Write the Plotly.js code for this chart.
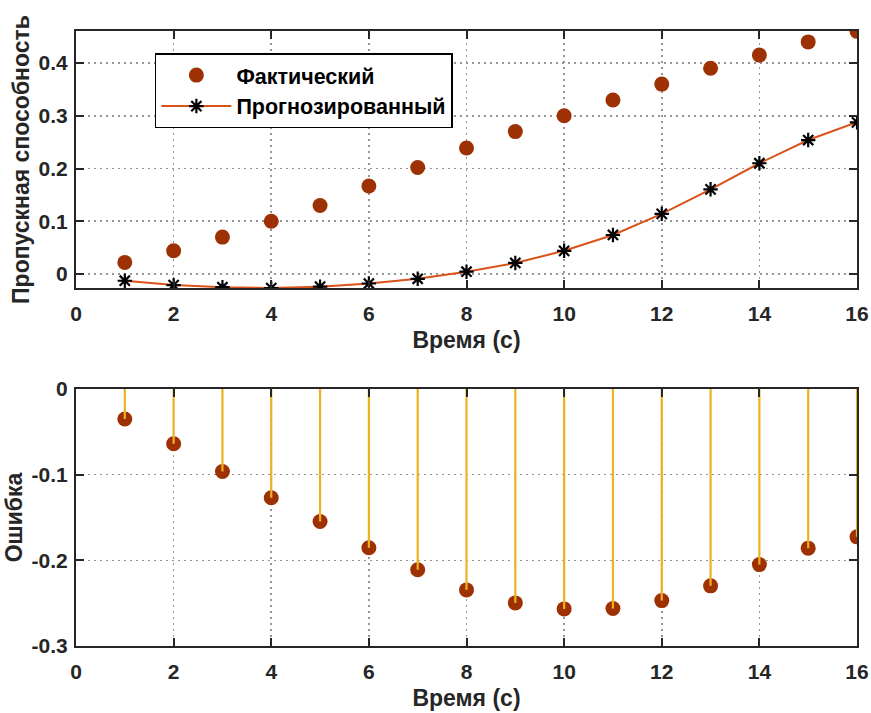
<!DOCTYPE html>
<html><head><meta charset="utf-8">
<script src="https://cdn.plot.ly/plotly-3.0.1.min.js"></script>
<style>body{margin:0;background:#fff}#plot{width:871px;height:713px}</style>
</head><body><div id="plot"></div>
<script>
const timeSteps = [1,2,3,4,5,6,7,8,9,10,11,12,13,14,15,16];
const actual = [0.022,0.044,0.070,0.100,0.130,0.167,0.202,0.239,0.270,0.300,0.330,0.360,0.390,0.415,0.440,0.460];
const predicted = [-0.0127,-0.021,-0.025,-0.0265,-0.024,-0.018,-0.009,0.0044,0.021,0.044,0.074,0.114,0.1606,0.210,0.254,0.2876];
const errorVals = [-0.035,-0.064,-0.0963,-0.127,-0.1547,-0.1854,-0.211,-0.2345,-0.2497,-0.2567,-0.2563,-0.247,-0.2298,-0.205,-0.1858,-0.1726];
const xTickVals = [0,2,4,6,8,10,12,14,16];
const topYTickVals = [0,0.1,0.2,0.3,0.4];
const topYTickText = ['0','0.1','0.2','0.3','0.4'];
const botYTickVals = [-0.3,-0.2,-0.1,0];
const botYTickText = ['-0.3','-0.2','-0.1','0'];
const names = ['Фактический','Прогнозированный'];
const xLabel = 'Время (с)';
const yLabelTop = 'Пропускная способность';
const yLabelBot = 'Ошибка';

const FONT = 'Liberation Sans, Arial, sans-serif';
const TXT = '#262626';
const RED = '#9E3104';

// stems built from data
const stemX = [], stemY = [];
timeSteps.forEach((t,i)=>{ stemX.push(t,t,null); stemY.push(0,errorVals[i],null); });

const traces = [
  {x: timeSteps, y: actual, type:'scatter', mode:'markers', name: names[0],
   marker:{size:15, color:RED}, xaxis:'x', yaxis:'y'},
  {x: timeSteps, y: predicted, type:'scatter', mode:'lines+markers', name: names[1],
   line:{color:'#D95319', width:2},
   marker:{symbol:'asterisk-open', size:12, color:'#000', line:{color:'#000', width:2.2}},
   xaxis:'x', yaxis:'y'},
  {x: timeSteps, y: errorVals, type:'scatter', mode:'markers', showlegend:false,
   marker:{size:15, color:RED}, xaxis:'x2', yaxis:'y2'},
  {x: stemX, y: stemY, type:'scatter', mode:'lines', showlegend:false,
   line:{color:'#EDB120', width:2.2}, xaxis:'x2', yaxis:'y2', hoverinfo:'skip'}
];

const tickFont = {family:FONT, size:21, color:TXT, weight:'bold'};
const titleFont = {family:FONT, size:23, color:TXT, weight:'bold'};
const axCommon = {
  showline:true, linecolor:TXT, linewidth:2, mirror:'ticks',
  ticks:'inside', ticklen:8, tickwidth:2, tickcolor:TXT,
  showgrid:true, gridcolor:'#969696', griddash:'2px,4px', gridwidth:1.6,
  zeroline:false, tickfont:tickFont
};
const xAx = Object.assign({}, axCommon, {range:[0,16], tickmode:'array', tickvals:xTickVals,
  ticklabelstandoff:6,
  title:{text:xLabel, font:titleFont, standoff:8}});

const layout = {
  width:871, height:713, paper_bgcolor:'#fff', plot_bgcolor:'#fff',
  margin:{l:76, r:14, t:31, b:67},
  showlegend:true,
  legend:{x:0.101, y:0.964, xanchor:'left', yanchor:'top', bgcolor:'#fff',
    bordercolor:'#000', borderwidth:1.5, font:{family:FONT, size:21.5, color:'#000', weight:'bold'},
    itemwidth:70, tracegroupgap:0},
  xaxis: Object.assign({}, xAx, {domain:[0,1], anchor:'y'}),
  yaxis: Object.assign({}, axCommon, {domain:[0.5821,1], anchor:'x', range:[-0.0265,0.4607],
    tickmode:'array', tickvals:topYTickVals, ticktext:topYTickText, ticklabelstandoff:2,
    title:{text:yLabelTop, font:titleFont, standoff:3}}),
  xaxis2: Object.assign({}, xAx, {domain:[0,1], anchor:'y2'}),
  yaxis2: Object.assign({}, axCommon, {domain:[0,0.4179], anchor:'x2', range:[-0.3,0],
    tickmode:'array', tickvals:botYTickVals, ticktext:botYTickText, ticklabelstandoff:2,
    title:{text:yLabelBot, font:titleFont, standoff:3}})
};

Plotly.newPlot('plot', traces, layout, {displayModeBar:false, staticPlot:true});
</script>
</body></html>
